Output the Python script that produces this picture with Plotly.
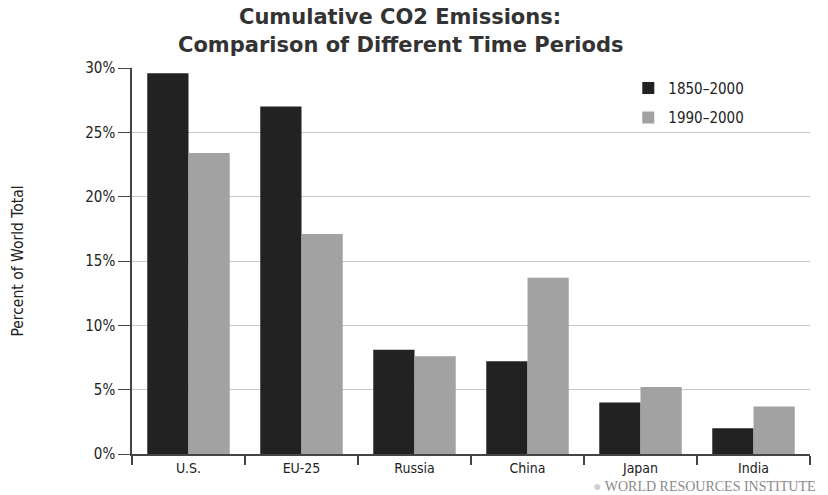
import plotly.graph_objects as go

# Share of cumulative world CO2 emissions (percent)
countries = ["U.S.", "EU-25", "Russia", "China", "Japan", "India"]
share_1850_2000 = [29.6, 27.0, 8.1, 7.2, 4.0, 2.0]
share_1990_2000 = [23.4, 17.1, 7.6, 13.7, 5.2, 3.7]
y_ticks = [0, 5, 10, 15, 20, 25, 30]
y_tick_labels = ["0%", "5%", "10%", "15%", "20%", "25%", "30%"]

fig = go.Figure()
fig.add_trace(go.Bar(name="1850\u20132000", x=countries, y=share_1850_2000,
                     legendgroup="a",
                     marker=dict(color="#222222", line=dict(width=0))))
fig.add_trace(go.Bar(name="1990\u20132000", x=countries, y=share_1990_2000,
                     legendgroup="b",
                     marker=dict(color="#a2a2a2", line=dict(width=0))))

fig.update_layout(
    width=828, height=495,
    margin=dict(l=132, r=18, t=68, b=41),
    paper_bgcolor="white", plot_bgcolor="white",
    barmode="group", bargap=0.27, bargroupgap=0,
    font=dict(family="DejaVu Sans Condensed, Liberation Sans Narrow, sans-serif", color="#222222"),
    legend=dict(
        x=0.732, xanchor="left", y=0.99, yanchor="top",
        bgcolor="rgba(255,255,255,0)", font=dict(size=15, color="#222222"),
        tracegroupgap=7, itemwidth=30,
    ),
    xaxis=dict(
        showline=True, linecolor="#444444", linewidth=1.5,
        ticks="outside", tickson="boundaries", ticklen=9, tickwidth=1.5, tickcolor="#444444",
        tickfont=dict(size=14, color="#222222"), showgrid=False,
    ),
    yaxis=dict(
        range=[0, 30], tickvals=y_ticks, ticktext=y_tick_labels,
        showline=True, linecolor="#444444", linewidth=1.5,
        ticks="outside", ticklen=12, tickwidth=1.2, tickcolor="#444444",
        showgrid=True, gridcolor="#c8c8c8", gridwidth=1,
        tickfont=dict(size=15, color="#222222"),
        title=dict(text="Percent of World Total", standoff=58,
                   font=dict(size=15.5, color="#222222")),
        zeroline=False,
    ),
)

# Two-line chart title
title_font = dict(family="DejaVu Sans, sans-serif", size=21, weight="bold", color="#333333")
fig.add_annotation(xref="paper", yref="paper", x=(400 - 132) / 678, y=1.133,
                   xanchor="center", yanchor="middle", showarrow=False,
                   text="Cumulative CO2 Emissions:", font=title_font)
fig.add_annotation(xref="paper", yref="paper", x=(400 - 132) / 678, y=1.06,
                   xanchor="center", yanchor="middle", showarrow=False,
                   text="Comparison of Different Time Periods", font=title_font)

fig.add_annotation(
    xref="paper", yref="paper", x=1.012, y=-0.085, xanchor="right", yanchor="middle",
    text="<span style='color:#d0d0d0'>\u25cf</span> WORLD RESOURCES INSTITUTE",
    showarrow=False,
    font=dict(family="Liberation Serif, DejaVu Serif, serif", size=14, color="#8a8a8a"),
)

fig.write_html("out.html")
